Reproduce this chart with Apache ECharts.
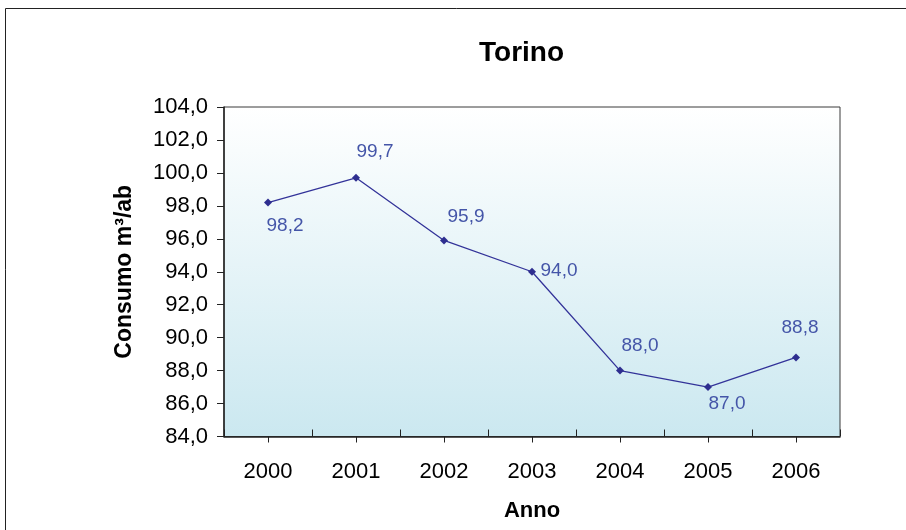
<!DOCTYPE html>
<html>
<head>
<meta charset="utf-8">
<script src="https://cdn.jsdelivr.net/npm/echarts@6/dist/echarts.min.js"></script>
<style>
html,body{margin:0;padding:0;background:#fff;}
#c{width:906px;height:530px;}
</style>
</head>
<body>
<div id="c"></div>
<script>
const categories = ['2000', '2001', '2002', '2003', '2004', '2005', '2006'];
const consumo = [98.2, 99.7, 95.9, 94.0, 88.0, 87.0, 88.8];
const yMin = 84, yMax = 104, yStep = 2;

// label placement offsets (style only)
const labelOffsets = [[17, 23], [19, -26], [22, -24], [27, -1], [20, -25], [19, 17], [4, -30]];

const FONT = 'Arial, "Liberation Sans", sans-serif';
const fmt = v => v.toFixed(1).replace('.', ',');

const chart = echarts.init(document.getElementById('c'), null, {renderer: 'canvas'});
chart.setOption({
  animation: false,
  backgroundColor: '#ffffff',
  title: {
    text: 'Torino',
    left: 474,
    top: 34,
    textStyle: {fontFamily: FONT, fontSize: 28, fontWeight: 'bold', color: '#000'}
  },
  graphic: [{
    type: 'rect',
    shape: {x: 5.5, y: 8.5, width: 920, height: 540},
    style: {fill: 'none', stroke: '#222', lineWidth: 1},
    silent: true
  }],
  grid: {
    left: 224, top: 107, right: 66, bottom: 93.5,
    outerBoundsMode: 'none',
    containLabel: false,
    show: true,
    borderColor: '#3a3a3a',
    borderWidth: 1,
    backgroundColor: new echarts.graphic.LinearGradient(0, 0, 0, 1, [
      {offset: 0, color: '#ffffff'},
      {offset: 1, color: '#cbe8f0'}
    ])
  },
  xAxis: [{
    type: 'category',
    data: categories,
    boundaryGap: true,
    name: 'Anno',
    nameLocation: 'middle',
    nameGap: 63,
    nameTextStyle: {fontFamily: FONT, fontSize: 22, fontWeight: 'bold', color: '#000'},
    axisLine: {show: true, lineStyle: {color: '#222', width: 1.5}},
    axisTick: {show: true, alignWithLabel: true, inside: false, length: 6, lineStyle: {color: '#222'}},
    axisLabel: {fontFamily: FONT, fontSize: 22, color: '#000', margin: 24},
    splitLine: {show: false}
  }, {
    type: 'category',
    data: categories,
    boundaryGap: true,
    position: 'bottom',
    axisLine: {show: false},
    axisTick: {show: true, alignWithLabel: false, inside: true, length: 7, lineStyle: {color: '#222'}},
    axisLabel: {show: false},
    splitLine: {show: false}
  }],
  yAxis: {
    type: 'value',
    min: yMin, max: yMax, interval: yStep,
    name: 'Consumo m³/ab',
    nameLocation: 'middle',
    nameGap: 88,
    nameTextStyle: {fontFamily: FONT, fontSize: 23, fontWeight: 'bold', color: '#000'},
    axisLine: {show: true, lineStyle: {color: '#222', width: 1.5}},
    axisTick: {show: true, inside: false, length: 7, lineStyle: {color: '#222'}},
    axisLabel: {fontFamily: FONT, fontSize: 22, color: '#000', margin: 16, formatter: v => fmt(v)},
    splitLine: {show: false}
  },
  series: [{
    type: 'line',
    data: consumo.map((v, i) => ({
      value: v,
      label: {offset: labelOffsets[i]}
    })),
    symbol: 'diamond',
    symbolSize: 8,
    lineStyle: {color: '#333399', width: 1.3},
    itemStyle: {color: '#2e2e8f'},
    label: {
      show: true,
      position: 'inside',
      fontFamily: FONT,
      fontSize: 19,
      color: '#4455a8',
      formatter: p => fmt(p.value)
    }
  }]
});
</script>
</body>
</html>
